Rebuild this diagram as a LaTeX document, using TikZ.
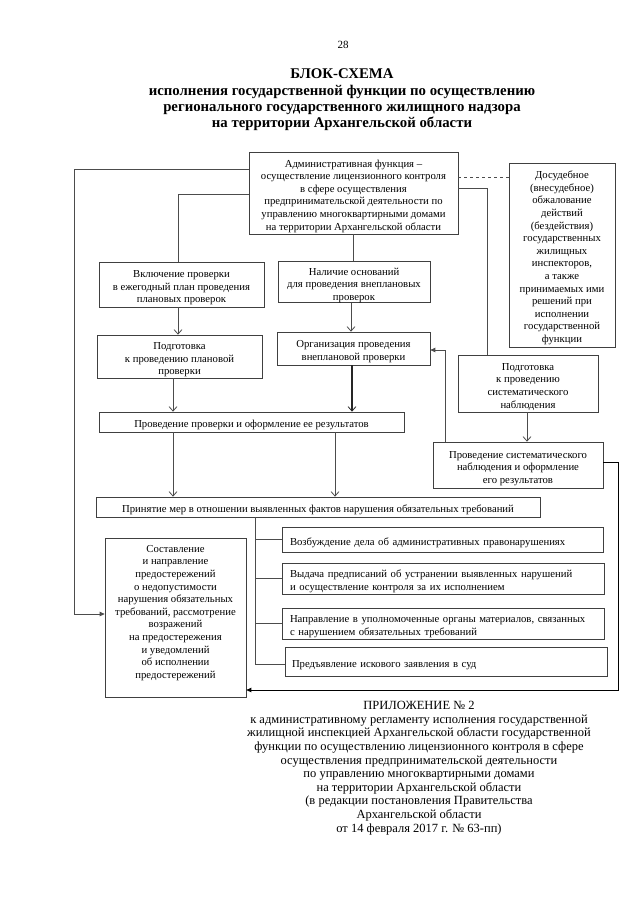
\documentclass[tikz,border=0pt]{standalone}
\usepackage{fontspec}
\setmainfont{Liberation Serif}
\usetikzlibrary{arrows.meta}
\newcommand{\tp}{\rule{0pt}{13.5pt}}
\begin{document}
\begin{tikzpicture}[x=1pt,y=-1pt,
  box/.style={draw=black!75, line width=0.7pt, inner sep=0pt, align=center,
    font=\fontsize{10.7}{12.6}\selectfont},
  lbox/.style={box, align=left},
  conn/.style={draw=black!70, line width=0.8pt},
  openarr/.style={conn, -{Straight Barb[length=4.5pt,width=8pt,line width=0.8pt]}},
  fillarr/.style={conn, -{Triangle[length=5pt,width=4.5pt]}},
  txt/.style={inner sep=0pt, align=center}
]
\useasboundingbox (0,0) rectangle (640,905);
\fill[white] (0,0) rectangle (640,905);

% title
\node[txt, font=\fontsize{11}{13}\selectfont] (pg) at (343,45) {28};
\node[txt, font=\bfseries\fontsize{14.8}{16.4}\selectfont] (title) at (342,100)
  {БЛОК-СХЕМА\\исполнения государственной функции по осуществлению\\регионального государственного жилищного надзора\\на территории Архангельской области};

% boxes
\node[box, minimum width=209pt, minimum height=82pt] (top) at (353.5,193)
  {\tp Административная функция –\\осуществление лицензионного контроля\\в сфере осуществления\\предпринимательской деятельности по\\управлению многоквартирными домами\\на территории Архангельской области};
\node[box, minimum width=106pt, minimum height=184pt] (dos) at (562,255)
  {\tp Досудебное\\(внесудебное)\\обжалование\\действий\\(бездействия)\\государственных\\жилищных\\инспекторов,\\а также\\принимаемых ими\\решений при\\исполнении\\государственной\\функции};
\node[box, minimum width=165pt, minimum height=45pt] (vkl) at (181.5,284.5)
  {\tp Включение проверки\\в ежегодный план проведения\\плановых проверок};
\node[box, minimum width=152pt, minimum height=40pt] (nal) at (354,282)
  {\tp Наличие оснований\\для проведения внеплановых\\проверок};
\node[box, minimum width=165pt, minimum height=43pt] (ppl) at (179.5,356.5)
  {\tp Подготовка\\к проведению плановой\\проверки};
\node[box, minimum width=153pt, minimum height=33pt] (org) at (353.5,348.5)
  {\tp Организация проведения\\внеплановой проверки};
\node[box, minimum width=140pt, minimum height=57pt] (psys) at (528,383.5)
  {\tp Подготовка\\к проведению\\систематического\\наблюдения};
\node[box, minimum width=305pt, minimum height=20pt] (prov) at (251.5,422)
  {\tp Проведение проверки и оформление ее результатов};
\node[box, minimum width=170pt, minimum height=46pt] (prsys) at (518,465)
  {\tp Проведение систематического\\наблюдения и оформление\\его результатов};
\node[box, minimum width=444pt, minimum height=20pt] (prin) at (318,507)
  {\tp Принятие мер в отношении выявленных фактов нарушения обязательных требований};
\node[lbox, text width=305pt, minimum width=321pt, minimum height=25pt] (vozb) at (442.5,539.5)
  {\tp Возбуждение дела об административных правонарушениях};
\node[lbox, text width=306pt, minimum width=322pt, minimum height=31pt] (vyd) at (443,578.5)
  {\tp Выдача предписаний об устранении выявленных нарушений\\и осуществление контроля за их исполнением};
\node[lbox, text width=306pt, minimum width=322pt, minimum height=31pt] (napr) at (443,623.5)
  {\tp Направление в уполномоченные органы материалов, связанных\\с нарушением обязательных требований};
\node[lbox, text width=308pt, minimum width=322pt, minimum height=29pt] (pred) at (446,661.5)
  {\tp Предъявление искового заявления в суд};
\node[box, minimum width=141pt, minimum height=159pt, text depth=18pt] (sost) at (175.5,617.5)
  {\tp Составление\\и направление\\предостережений\\о недопустимости\\нарушения обязательных\\требований, рассмотрение\\возражений\\на предостережения\\и уведомлений\\об исполнении\\предостережений};

% appendix text
\node[txt, font=\fontsize{12.5}{13.6}\selectfont] (app) at (419,768)
  {ПРИЛОЖЕНИЕ № 2\\к административному регламенту исполнения государственной\\жилищной инспекцией Архангельской области государственной\\функции по осуществлению лицензионного контроля в сфере\\осуществления предпринимательской деятельности\\по управлению многоквартирными домами\\на территории Архангельской области\\(в редакции постановления Правительства\\Архангельской области\\от 14 февраля 2017 г. № 63-пп)};

% connectors
\draw[fillarr] (top.west |- 0,169) -- (74,169) -- (74,614) -- (sost.west |- 0,614);
\draw[conn] (top.west |- 0,194) -- (178,194) -- (vkl.north -| 178,0);
\draw[conn] (top.south -| 353,0) -- (nal.north -| 353,0);
\draw[conn] (top.east |- 0,188) -- (487,188) -- (psys.north -| 487,0);
\draw[conn, dashed, dash pattern=on 3pt off 3pt] (top.east |- 0,177) -- (dos.west |- 0,177);
\draw[openarr] (vkl.south -| 178,0) -- (ppl.north -| 178,0);
\draw[openarr] (nal.south -| 351,0) -- (org.north -| 351,0);
\draw[openarr] (ppl.south -| 173,0) -- (prov.north -| 173,0);
\draw[openarr, draw=black!85, line width=1.1pt] (org.south -| 352,0) -- (prov.north -| 352,0);
\draw[openarr] (psys.south -| 527,0) -- (prsys.north -| 527,0);
\draw[fillarr] (prsys.north -| 445,0) -- (445,350) -- (org.east |- 0,350);
\draw[fillarr, draw=black, line width=0.9pt] (prsys.east |- 0,462) -- (618,462) -- (618,690) -- (sost.east |- 0,690);
\draw[openarr] (prov.south -| 173,0) -- (prin.north -| 173,0);
\draw[openarr] (prov.south -| 335,0) -- (prin.north -| 335,0);
\draw[conn] (prin.south -| 255,0) -- (255,664) -- (pred.west |- 0,664);
\draw[conn] (vozb.west -| 255,0) -- (vozb.west);
\draw[conn] (vyd.west -| 255,0) -- (vyd.west);
\draw[conn] (napr.west -| 255,0) -- (napr.west);
\end{tikzpicture}
\end{document}
